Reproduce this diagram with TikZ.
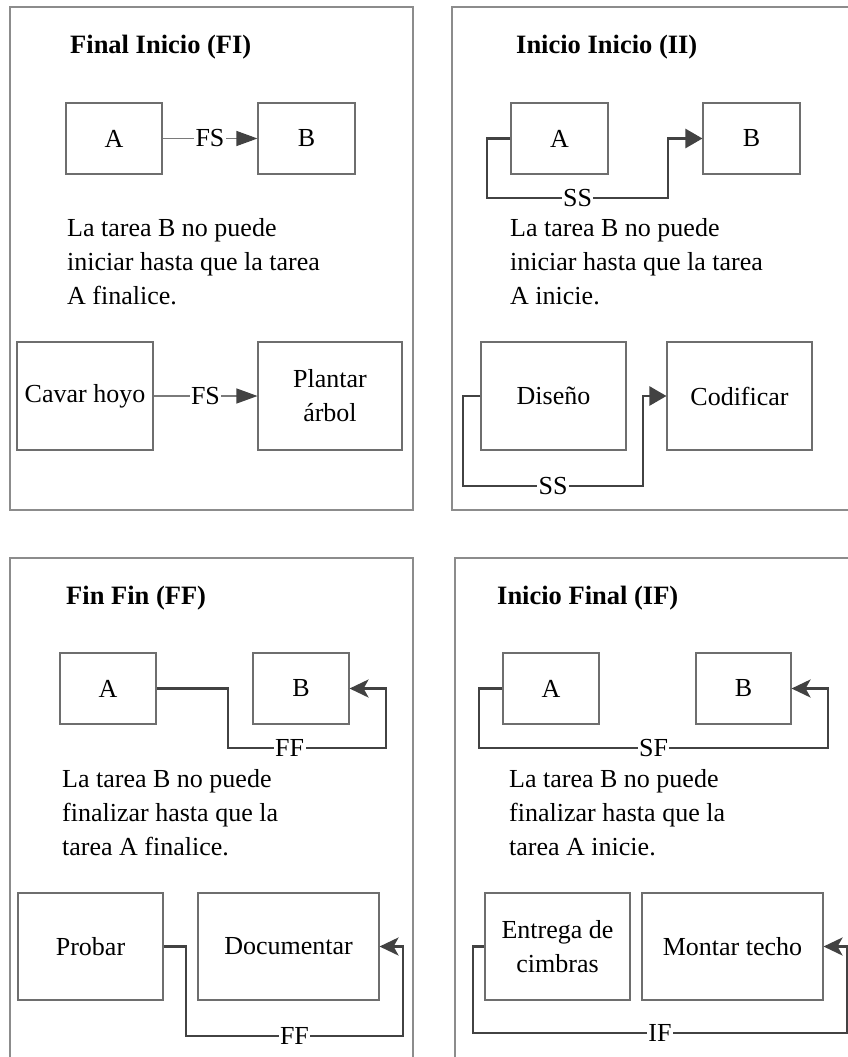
\documentclass[tikz,border=0pt]{standalone}
\usepackage{fontspec}
\setmainfont{Liberation Serif}
\newfontfamily\timesface{Liberation Serif}
\usetikzlibrary{arrows.meta}
\definecolor{framegray}{HTML}{8C8C8C}
\definecolor{boxgray}{HTML}{6E6E6E}
\definecolor{linkgray}{HTML}{424242}
\definecolor{thingray}{HTML}{7A7A7A}
\tikzset{
  body/.style={font=\timesface\fontsize{26}{34}\selectfont, inner sep=0pt},
  headline/.style={font=\timesface\bfseries\fontsize{26.5}{30}\selectfont, inner sep=0pt, anchor=base west},
  note/.style={body, anchor=base west, align=left},
  task/.style={body, draw=boxgray, line width=1.1pt, align=center, fill=white},
  frame/.style={draw=framegray, line width=1.3pt},
  link/.style={draw=linkgray, line width=2.6pt},
  thinlink/.style={draw=thingray, line width=1.1pt},
  tag/.style={body, fill=white, inner xsep=1.5pt, inner ysep=2pt},
  tipA/.style={-{Triangle[length=21pt, width=15pt, fill=linkgray, color=linkgray]}},
  tipB/.style={-{Triangle[length=17pt, width=19pt, fill=linkgray, color=linkgray]}},
  tipC/.style={-{Stealth[length=19pt, width=18pt, inset=5pt, fill=linkgray, color=linkgray]}}
}
\begin{document}
\begin{tikzpicture}[x=1pt, y=-1pt, line join=miter]
\useasboundingbox (0,0) rectangle (848,1057);
\clip (0,0) rectangle (848,1057);
\fill[white] (0,0) rectangle (848,1057);

% panel frames (right and lower ones run past the page edge)
\draw[frame] (10,7) rectangle (413,510);
\draw[frame] (452,7) rectangle (870,510);
\draw[frame] (10,558) rectangle (413,1080);
\draw[frame] (455,558) rectangle (870,1080);

% ---------- Final Inicio ----------
\node[headline] (h1) at (70,53) {Final Inicio (FI)};
\node[task, minimum width=96pt, minimum height=71pt] (a1) at (114,138.5) {A};
\node[task, minimum width=97pt, minimum height=71pt] (b1) at (306.5,138.5) {B};
\draw[thinlink, tipA] (a1.east) -- node[tag]{FS} (b1.west);
\node[note] (n1) at (67,304) {La tarea B no puede\\iniciar hasta que la tarea\\A finalice.};
\node[task, minimum width=136pt, minimum height=108pt] (c1) at (85,396) {Cavar hoyo};
\node[task, minimum width=144pt, minimum height=108pt] (d1) at (330,396) {Plantar\\árbol};
\draw[thinlink, tipA] (c1.east) -- node[tag]{FS} (d1.west);

% ---------- Inicio Inicio ----------
\node[headline] (h2) at (516,53) {Inicio Inicio (II)};
\node[task, minimum width=97pt, minimum height=71pt] (a2) at (559.5,138.5) {A};
\node[task, minimum width=97pt, minimum height=71pt] (b2) at (751.5,138.5) {B};
\draw[link, tipB] (a2.west) -- (487,138.5) -- (487,198) -- node[tag]{SS} (668,198) -- (668,138.5) -- (b2.west);
\node[note] (n2) at (510,304) {La tarea B no puede\\iniciar hasta que la tarea\\A inicie.};
\node[task, minimum width=145pt, minimum height=108pt] (c2) at (553.5,396) {Diseño};
\node[task, minimum width=145pt, minimum height=108pt] (d2) at (739.5,396) {Codificar};
\draw[link, tipB] (c2.west) -- (463,396) -- (463,486) -- node[tag]{SS} (643,486) -- (643,396) -- (d2.west);

% ---------- Fin Fin ----------
\node[headline] (h3) at (66,604) {Fin Fin (FF)};
\node[task, minimum width=96pt, minimum height=71pt] (a3) at (108,688.5) {A};
\node[task, minimum width=96pt, minimum height=71pt] (b3) at (301,688.5) {B};
\draw[link, tipC] (a3.east) -- (228,688.5) -- (228,748) -- node[tag, pos=0.39]{FF} (386,748) -- (386,688.5) -- (b3.east);
\node[note] (n3) at (62,855) {La tarea B no puede\\finalizar hasta que la\\tarea A finalice.};
\node[task, minimum width=145pt, minimum height=107pt] (c3) at (90.5,946.5) {Probar};
\node[task, minimum width=181pt, minimum height=107pt] (d3) at (288.5,946.5) {Documentar};
\draw[link, tipC] (c3.east) -- (186,946.5) -- (186,1036) -- node[tag]{FF} (403,1036) -- (403,946.5) -- (d3.east);

% ---------- Inicio Final ----------
\node[headline] (h4) at (497,604) {Inicio Final (IF)};
\node[task, minimum width=96pt, minimum height=71pt] (a4) at (551,688.5) {A};
\node[task, minimum width=95pt, minimum height=71pt] (b4) at (743.5,688.5) {B};
\draw[link, tipC] (a4.west) -- (479,688.5) -- (479,748) -- node[tag]{SF} (828,748) -- (828,688.5) -- (b4.east);
\node[note] (n4) at (509,855) {La tarea B no puede\\finalizar hasta que la\\tarea A inicie.};
\node[task, minimum width=145pt, minimum height=107pt] (c4) at (557.5,946.5) {Entrega de\\cimbras};
\node[task, minimum width=181pt, minimum height=107pt] (d4) at (732.5,946.5) {Montar techo};
\draw[link, tipC] (c4.west) -- (473,946.5) -- (473,1033) -- node[tag]{IF} (847,1033) -- (847,946.5) -- (d4.east);
\end{tikzpicture}
\end{document}
